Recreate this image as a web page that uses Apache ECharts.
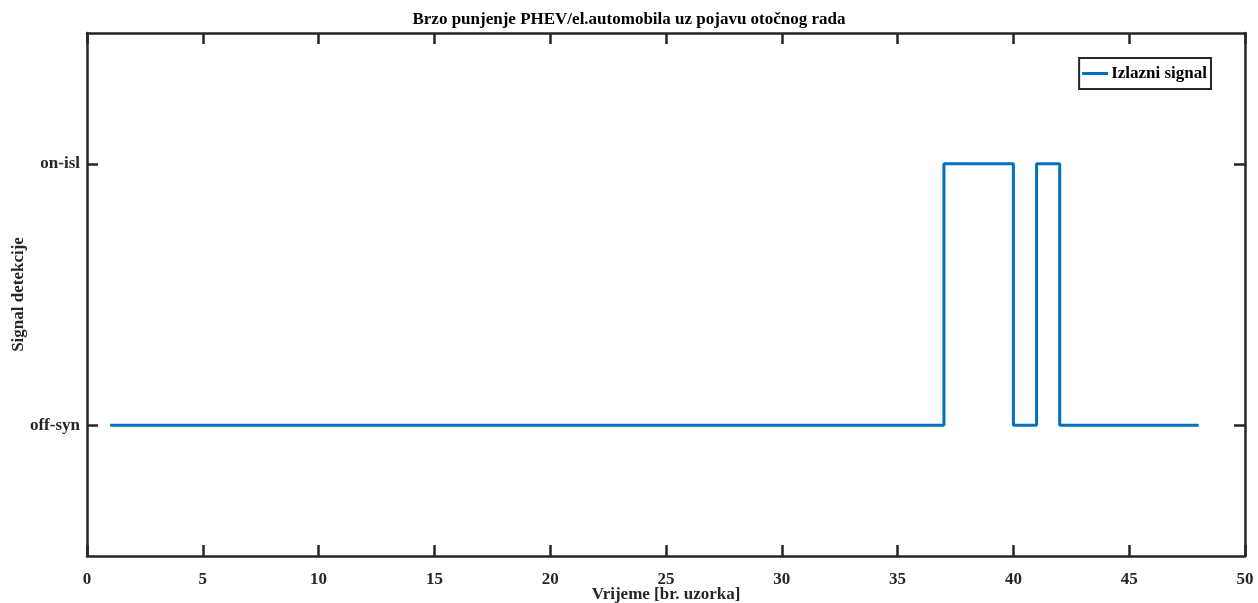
<!DOCTYPE html>
<html>
<head>
<meta charset="utf-8">
<script src="https://cdn.jsdelivr.net/npm/echarts@6/dist/echarts.min.js"></script>
<style>html,body{margin:0;padding:0;background:#fff}#c{width:1258px;height:603px}</style>
</head>
<body>
<div id="c"></div>
<script>
const titleText = 'Brzo punjenje PHEV/el.automobila uz pojavu otočnog rada';
const xName = 'Vrijeme [br. uzorka]';
const yName = 'Signal detekcije';
const seriesName = 'Izlazni signal';
const samples = [1,2,3,4,5,6,7,8,9,10,11,12,13,14,15,16,17,18,19,20,21,22,23,24,25,26,27,28,29,30,31,32,33,34,35,36,37,38,39,40,41,42,43,44,45,46,47,48];
const signal  = [0,0,0,0,0,0,0,0,0,0,0,0,0,0,0,0,0,0,0,0,0,0,0,0,0,0,0,0,0,0,0,0,0,0,0,0,1,1,1,0,1,0,0,0,0,0,0,0];
const yTickValues = [0, 1];
const yTickLabels = ['off-syn', 'on-isl'];

const FONT = '"Liberation Serif","Times New Roman",serif';
const AX = '#262626';
const FS = 17;
const chart = echarts.init(document.getElementById('c'), null, {renderer: 'canvas'});
const axLine = {show: true, onZero: false, lineStyle: {color: AX, width: 2.5}};
chart.setOption({
  animation: false,
  backgroundColor: '#fff',
  title: {text: titleText, left: 'center', top: 6, textStyle: {fontFamily: FONT, fontWeight: 'bold', fontSize: FS, color: '#000'}},
  grid: {left: 87, right: 13, top: 33, bottom: 47, containLabel: false, outerBoundsMode: 'none'},
  legend: {
    data: [seriesName], right: 47, top: 58, orient: 'vertical',
    borderColor: AX, borderWidth: 2, padding: [7, 4, 7, 3], itemGap: 0,
    icon: 'rect', itemWidth: 26, itemHeight: 3,
    textStyle: {fontFamily: FONT, fontWeight: 'bold', fontSize: FS, color: '#000', padding: [0,0,0,-2]}
  },
  xAxis: [{
    type: 'value', min: 0, max: 50, interval: 5, position: 'bottom',
    name: xName, nameLocation: 'middle', nameGap: 30, nameMoveOverlap: false,
    nameTextStyle: {fontFamily: FONT, fontWeight: 'bold', fontSize: FS, color: '#262626'},
    axisLine: axLine, splitLine: {show: false},
    axisTick: {show: true, inside: true, length: 11, lineStyle: {color: AX, width: 2.5}},
    axisLabel: {fontFamily: FONT, fontWeight: 'bold', fontSize: FS, color: '#262626', margin: 15}
  }, {
    type: 'value', min: 0, max: 50, interval: 5, position: 'top',
    axisLine: axLine, splitLine: {show: false},
    axisTick: {show: true, inside: true, length: 11, lineStyle: {color: AX, width: 2.5}},
    axisLabel: {show: false}
  }],
  yAxis: [{
    type: 'value', min: -0.5, max: 1.5, interval: 0.5, position: 'left',
    name: yName, nameLocation: 'middle', nameGap: 60, nameRotate: 90, nameMoveOverlap: false,
    nameTextStyle: {fontFamily: FONT, fontWeight: 'bold', fontSize: FS, color: '#262626'},
    axisLine: axLine, splitLine: {show: false},
    axisTick: {show: true, inside: true, length: 11, customValues: yTickValues, lineStyle: {color: AX, width: 2.5}},
    axisLabel: {customValues: yTickValues, fontFamily: FONT, fontWeight: 'bold', fontSize: FS, color: '#262626', margin: 7,
      formatter: v => { const i = yTickValues.indexOf(Math.round(v)); return i >= 0 ? yTickLabels[i] : ''; }}
  }, {
    type: 'value', min: -0.5, max: 1.5, interval: 0.5, position: 'right',
    axisLine: axLine, splitLine: {show: false},
    axisTick: {show: true, inside: true, length: 11, customValues: yTickValues, lineStyle: {color: AX, width: 2.5}},
    axisLabel: {show: false}
  }],
  series: [{
    name: seriesName, type: 'line', step: 'end', showSymbol: false, symbol: 'none',
    data: samples.map((x, i) => [x, signal[i]]),
    lineStyle: {color: '#0072BD', width: 3},
    itemStyle: {color: '#0072BD'}
  }]
});
</script>
</body>
</html>
